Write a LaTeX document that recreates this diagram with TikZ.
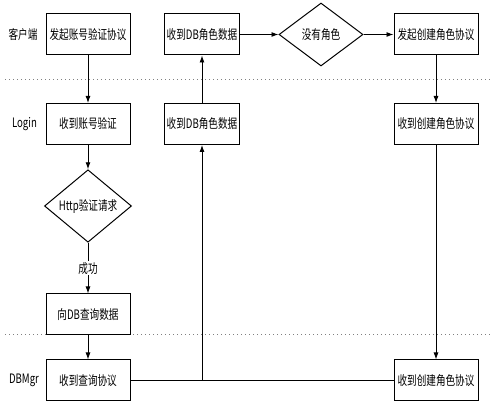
\documentclass[tikz,border=0pt]{standalone}
\usepackage{fontspec}
\setmainfont{Noto Sans CJK SC}[FakeStretch=0.74]
\usetikzlibrary{shapes.geometric,arrows.meta}
\tikzset{
  stepbox/.style={draw,line width=1pt,minimum width=84pt,minimum height=41pt,inner sep=1pt,
    font=\fontsize{13}{15}\selectfont},
  choice/.style={draw,diamond,line width=1pt,inner sep=0pt,
    font=\fontsize{13}{15}\selectfont},
  lane/.style={font=\fontsize{13}{15}\selectfont},
  flow/.style={line width=0.9pt,-{Latex[length=7pt,width=5pt]}},
  sep/.style={gray,line width=1pt,dash pattern=on 1pt off 3pt}
}

\begin{document}
\begin{tikzpicture}[x=1pt,y=1pt]
    \useasboundingbox (0,0) rectangle (496,417);
    % lanes
    \draw[sep] (5,337) -- (491,337);
    \draw[sep] (5,82) -- (491,82);
    \node[lane] (client) at (23,382.5) {客户端};
    \node[lane] (login) at (24.5,293) {Login};
    \node[lane] (dbmgr) at (24,36.5) {DBMgr};
    % client row
    \node[stepbox] (sendacc) at (88,382.5) {发起账号验证协议};
    \node[stepbox,minimum width=75pt] (gotrole) at (202,382.5) {收到DB角色数据};
    \node[choice,minimum width=84pt,minimum height=63pt] (norole) at (321,382.5) {没有角色};
    \node[stepbox] (sendnew) at (436,382.5) {发起创建角色协议};
    % login row
    \node[stepbox] (getacc) at (88,293) {收到账号验证};
    \node[stepbox,minimum width=75pt] (passrole) at (202,293) {收到DB角色数据};
    \node[stepbox] (getnew) at (436,293) {收到创建角色协议};
    \node[choice,minimum width=87pt,minimum height=62pt] (http) at (88,211) {Http验证请求};
    \node[stepbox] (askdb) at (88,102.5) {向DB查询数据};
    % dbmgr row
    \node[stepbox] (query) at (88,36.5) {收到查询协议};
    \node[stepbox] (create) at (436,36.5) {收到创建角色协议};
    % connectors
    \draw[flow] (sendacc) -- (getacc);
    \draw[flow] (getacc) -- (http);
    \draw[flow] (http) -- node[midway,fill=white,inner sep=1pt,lane] {成功} (askdb);
    \draw[flow] (askdb) -- (query);
    \draw[line width=0.9pt] (query) -- (create);
    \coordinate (turn) at (query -| passrole);
    \draw[flow] (turn) -- (passrole);
    \draw[flow] (passrole) -- (gotrole);
    \draw[flow] (gotrole) -- (norole);
    \draw[flow] (norole) -- (sendnew);
    \draw[flow] (sendnew) -- (getnew);
    \draw[flow] (getnew) -- (create);
\end{tikzpicture}
\end{document}
